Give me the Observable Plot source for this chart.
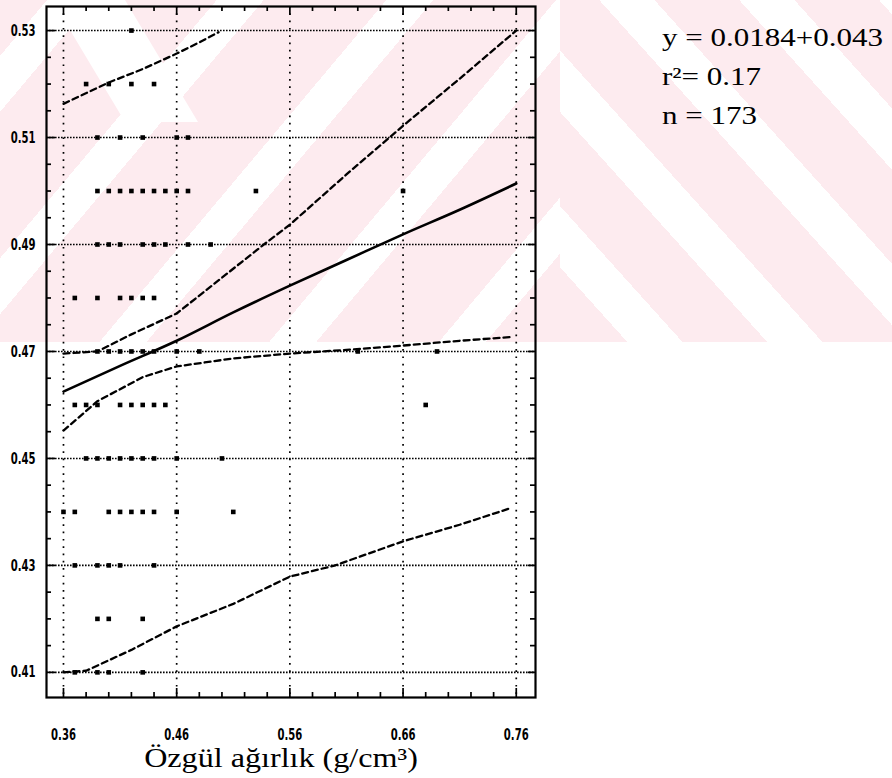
<!DOCTYPE html>
<html><head><meta charset="utf-8">
<script src="https://cdn.jsdelivr.net/npm/d3@7"></script>
<script src="https://cdn.jsdelivr.net/npm/@observablehq/plot@0.6"></script>
<style>
body{margin:0;background:#fff}
#wrap{position:relative;width:892px;height:778px;overflow:hidden;background:#fff}
.wm{position:absolute;top:0;height:342px}
#wmL{left:0;width:560px;background:repeating-linear-gradient(130deg,#fdebef 0 36px,#ffffff 36px 72px,#fdebef 72px 130px)}
#wmL2{left:0;width:560px;background:#fff;clip-path:polygon(52px 0,125px 0,198px 122px,125px 122px)}
#wmR{left:560px;width:332px;background:repeating-linear-gradient(48deg,#fdebef 0 50px,#ffffff 50px 91px,#fdebef 91px 104px)}
#chart{position:absolute;left:0;top:0}
.serif{position:absolute;font-family:"Liberation Serif","Times New Roman",serif;color:#000;white-space:nowrap;line-height:1}
.ann{left:662px;font-size:25px;transform-origin:0 50%;transform:scaleX(1.24)}
#xtitle{left:281px;top:745px;font-size:27px;transform:translateX(-50%) scaleX(1.19)}
</style>
</head><body>
<div id="wrap">
  <div class="wm" id="wmL"></div>
  <div class="wm" id="wmL2"></div>
  <div class="wm" id="wmR"></div>
  <div id="chart"></div>
  <div class="serif ann" style="top:25px">y = 0.0184+0.043</div>
  <div class="serif ann" style="top:64px">r²= 0.17</div>
  <div class="serif ann" style="top:103px">n = 173</div>
  <div class="serif" id="xtitle">Özgül ağırlık (g/cm³)</div>
</div>
<script>
// Tick values
const xMajor = [0.36, 0.46, 0.56, 0.66, 0.76];
const xMinor = [0.38, 0.40, 0.42, 0.44, 0.48, 0.50, 0.52, 0.54, 0.58, 0.60, 0.62, 0.64, 0.68, 0.70, 0.72, 0.74];
const yMajor = [0.41, 0.43, 0.45, 0.47, 0.49, 0.51, 0.53];
const yMinor = [0.415, 0.42, 0.425, 0.435, 0.44, 0.445, 0.455, 0.46, 0.465, 0.475, 0.48, 0.485, 0.495, 0.50, 0.505, 0.515, 0.52, 0.525];

// Scatter points, grouped by y level
const rowY = [0.53, 0.52, 0.51, 0.50, 0.49, 0.48, 0.47, 0.46, 0.45, 0.44, 0.43, 0.42, 0.41];
const rowX = [
  [0.42],
  [0.38, 0.40, 0.42, 0.44],
  [0.39, 0.41, 0.43, 0.46, 0.47],
  [0.39, 0.40, 0.41, 0.42, 0.43, 0.44, 0.45, 0.46, 0.47, 0.53, 0.66],
  [0.39, 0.40, 0.41, 0.43, 0.44, 0.45, 0.47, 0.49],
  [0.37, 0.39, 0.41, 0.42, 0.43, 0.44],
  [0.39, 0.40, 0.41, 0.42, 0.43, 0.44, 0.46, 0.48, 0.62, 0.69],
  [0.37, 0.38, 0.39, 0.41, 0.42, 0.43, 0.44, 0.45, 0.68],
  [0.38, 0.39, 0.40, 0.41, 0.42, 0.43, 0.44, 0.46, 0.50],
  [0.36, 0.37, 0.40, 0.41, 0.42, 0.43, 0.44, 0.46, 0.51],
  [0.37, 0.39, 0.40, 0.41, 0.44],
  [0.39, 0.40, 0.43],
  [0.37, 0.39, 0.40, 0.43]
];

// Regression line
const fitX = [0.36, 0.41, 0.46, 0.51, 0.56, 0.61, 0.66, 0.71, 0.76];
const fitY = [0.4625, 0.4673, 0.4720, 0.4773, 0.4823, 0.4871, 0.4919, 0.4965, 0.5014];
// Upper band (inner)
const up1X = [0.36, 0.39, 0.42, 0.46, 0.50, 0.537, 0.56, 0.61, 0.66, 0.71, 0.76];
const up1Y = [0.4696, 0.4700, 0.4732, 0.4771, 0.4838, 0.4900, 0.4937, 0.5031, 0.5122, 0.5210, 0.5300];
// Upper band (outer)
const up2X = [0.36, 0.40, 0.43, 0.46, 0.48, 0.497];
const up2Y = [0.5163, 0.5203, 0.5228, 0.5257, 0.5278, 0.5297];
// Lower band (inner)
const lo1X = [0.36, 0.39, 0.43, 0.46, 0.51, 0.56, 0.61, 0.66, 0.71, 0.755];
const lo1Y = [0.4552, 0.4607, 0.4652, 0.4672, 0.4687, 0.4696, 0.4703, 0.4711, 0.4720, 0.4727];
// Lower band (outer)
const lo2X = [0.36, 0.38, 0.42, 0.46, 0.51, 0.56, 0.60, 0.66, 0.71, 0.755];
const lo2Y = [0.4100, 0.4103, 0.4142, 0.4186, 0.4228, 0.4279, 0.4300, 0.4345, 0.4376, 0.4407];

const points = rowY.flatMap((y, i) => rowX[i].map(x => ({x, y})));
const zip = (xs, ys) => xs.map((x, i) => ({x, y: ys[i]}));

const W = 892, H = 778, mL = 46, mR = 357, mT = 6, mB = 81;
const pw = W - mL - mR, ph = H - mT - mB;

const fmt = d3.format(".2f");
const lab = {fontSize: 16, fontWeight: "bold", fontFamily: "DejaVu Sans Condensed, DejaVu Sans, sans-serif", label: null};
const dash = {x: "x", y: "y", stroke: "#000", strokeWidth: 2.3, strokeDasharray: "6,4", clip: true};
const tk = {stroke: "#000", strokeWidth: 1.7};

const svg = Plot.plot({
  width: W, height: H,
  marginLeft: mL, marginRight: mR, marginTop: mT, marginBottom: mB,
  style: {background: "transparent", overflow: "visible"},
  x: {domain: [0.345, 0.777]},
  y: {domain: [0.4053, 0.5345]},
  marks: [
    Plot.gridY(yMajor, {stroke: "#000", strokeOpacity: 1, strokeWidth: 1.6, strokeDasharray: "1.6,1.4"}),
    Plot.gridX(xMajor, {stroke: "#000", strokeOpacity: 1, strokeWidth: 1.7, strokeDasharray: "1.7,5.6"}),
    // inward tick marks
    Plot.tickX(xMajor, {x: d => d, insetTop: ph - 9, ...tk}),
    Plot.tickX(xMinor, {x: d => d, insetTop: ph - 5, ...tk}),
    Plot.tickX(xMajor, {x: d => d, insetBottom: ph - 9, ...tk}),
    Plot.tickX(xMinor, {x: d => d, insetBottom: ph - 5, ...tk}),
    Plot.tickY(yMajor, {y: d => d, insetRight: pw - 9, ...tk}),
    Plot.tickY(yMinor, {y: d => d, insetRight: pw - 5, ...tk}),
    Plot.tickY(yMajor, {y: d => d, insetLeft: pw - 7, ...tk}),
    Plot.tickY(yMinor, {y: d => d, insetLeft: pw - 5, ...tk}),
    Plot.frame({stroke: "#000", strokeWidth: 2.2}),
    Plot.axisX(xMajor, {anchor: "bottom", tickSize: 0, tickPadding: 31, tickFormat: fmt, ...lab}),
    Plot.axisY(yMajor, {anchor: "left", tickSize: 0, tickPadding: 11, tickFormat: fmt, ...lab}),
    Plot.line(zip(lo2X, lo2Y), dash),
    Plot.line(zip(lo1X, lo1Y), dash),
    Plot.line(zip(up1X, up1Y), dash),
    Plot.line(zip(up2X, up2Y), dash),
    Plot.line(zip(fitX, fitY), {x: "x", y: "y", stroke: "#000", strokeWidth: 2.6, curve: "monotone-x"}),
    Plot.dot(points, {x: "x", y: "y", symbol: "square", r: 2.6, fill: "#000", stroke: "none"})
  ]
});

// condense tick label glyphs horizontally (narrow bitmap-like font in the original)
d3.select(svg).selectAll('g[aria-label="x-axis tick label"] text, g[aria-label="y-axis tick label"] text')
  .each(function() {
    const el = d3.select(this);
    const t = el.attr("transform");
    if (t) {
      el.attr("transform", `${t} scale(0.7,1)`);
    } else {
      const x = parseFloat(el.attr("x")) || 0;
      el.attr("x", null).attr("transform", `translate(${x},0) scale(0.7,1)`);
    }
  });

document.getElementById("chart").appendChild(svg);
</script>
</body></html>
